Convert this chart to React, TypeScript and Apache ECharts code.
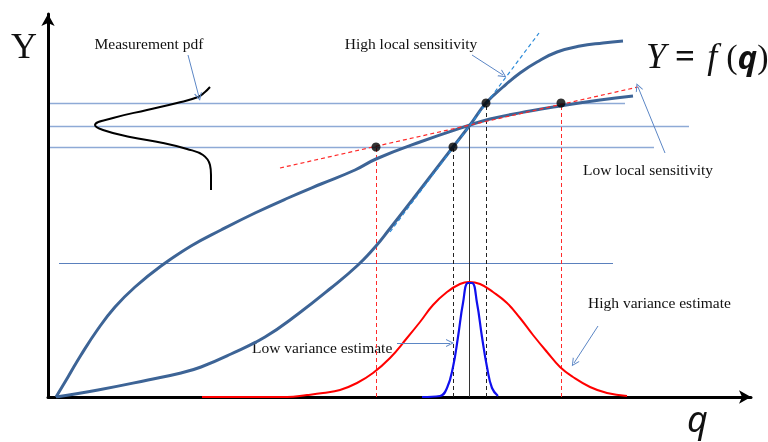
import React, { useEffect, useRef } from "react";
import * as echarts from "echarts";

// Data coordinates: x = q (0..703), y = Y (0..383)
const X_MAX = 703;
const Y_MAX = 383;

// Low-sensitivity (concave) model curve
const curveLow: number[][] = [
  [8, 0], [20, 20], [33, 42], [50, 68], [67, 90], [87, 110], [113, 131],
  [143, 151], [173, 167], [207, 184], [240, 199], [273, 213], [307, 227],
  [328, 238], [372, 255], [422, 272], [442, 278], [482, 286], [512, 291],
  [552, 297], [585, 301],
];
// High-sensitivity (S-shaped) model curve
const curveHigh: number[][] = [
  [8, 0], [50, 7], [100, 17], [133, 24], [153, 30], [183, 43], [217, 60],
  [250, 83], [283, 109], [310, 132], [328, 151], [340, 166], [365, 198],
  [405, 250], [422, 272], [438, 294], [455, 310], [472, 324], [489, 335],
  [509, 345], [532, 351], [555, 354], [575, 356],
];
// High variance estimate pdf
const pdfWide: number[][] = [
  [154, 0], [239, 0], [259, 2], [275, 4], [292, 7], [309, 14], [325, 24],
  [342, 39], [359, 59], [372, 75], [385, 92], [399, 105], [412, 113],
  [421, 115], [432, 113], [445, 105], [459, 94], [472, 79], [485, 62],
  [499, 45], [512, 30], [525, 20], [542, 10], [559, 4], [579, 1],
];
// Low variance estimate pdf
const pdfNarrow: number[][] = [
  [374, 0], [392, 1], [399, 9], [405, 30], [410, 60], [415, 94], [420, 114],
  [424, 114], [429, 94], [434, 60], [439, 30], [444, 9], [450, 1],
];
// Measurement pdf (drawn sideways)
const pdfMeasure: number[][] = [
  [162, 310], [157, 305], [150, 300], [129, 294], [99, 287], [65, 279],
  [47, 272], [55, 267], [82, 260], [115, 254], [139, 248], [155, 242],
  [162, 232], [163, 222], [163, 207],
];
// Horizontal measurement levels [x1, x2, y]
const levelLines: number[][] = [
  [2, 577, 294],
  [2, 641, 271],
  [2, 606, 250],
];
const baseLevel: number[] = [11, 565, 134];
// Vertical projections [x, yTop]
const redDrops: number[][] = [[328, 250], [513, 294]];
const blackDrops: number[][] = [[405, 250], [438, 294]];
const centerDrop: number[] = [421, 271];
// Tangents
const tangentLow: number[][] = [[232, 229], [590, 310]];
const tangentHigh: number[][] = [[342, 165], [491, 364]];
// Intersection points
const dots: number[][] = [[328, 250], [405, 250], [438, 294], [513, 294]];
// Annotation arrows
const arrows: number[][][] = [
  [[140, 342], [151, 300]],
  [[424, 342], [455, 322]],
  [[617, 244], [590, 310]],
  [[349, 54], [402, 54]],
  [[550, 71], [526, 34]],
];

const SERIF = "'Liberation Serif', 'Times New Roman', serif";
const CHEVRON = "path://M0,100 L50,0 L100,100 L86,100 L50,26 L14,100 Z";

export default function App() {
  const ref = useRef<HTMLDivElement>(null);
  useEffect(() => {
    if (!ref.current) return;
    const chart = echarts.init(ref.current, undefined, { renderer: "svg" });
    const curve = (data: number[][], color: string, width: number) => ({
      type: "line",
      data,
      smooth: 0.45,
      symbol: "none",
      showSymbol: false,
      lineStyle: { color, width },
      z: 3,
    });
    const seg = (coords: number[][], color: string, width: number, type: any = "solid") => ({
      coords,
      lineStyle: { color, width, type, opacity: 1 },
    });
    const axisCommon = {
      type: "value",
      axisTick: { show: false },
      axisLabel: { show: false },
      splitLine: { show: false },
      axisLine: {
        show: true,
        symbol: ["none", "arrow"],
        symbolSize: [10, 12],
        lineStyle: { color: "#000", width: 3 },
      },
    };
    const label = (text: string, x: number, y: number, align: string = "left") => ({
      type: "text",
      x,
      y,
      style: {
        text,
        font: `15.5px ${SERIF}`,
        fill: "#111",
        textAlign: align,
        textVerticalAlign: "middle",
      },
    });
    chart.setOption({
      animation: false,
      grid: { left: 48, right: 17, top: 14, bottom: 45, containLabel: false },
      xAxis: { ...axisCommon, min: 0, max: X_MAX },
      yAxis: { ...axisCommon, min: 0, max: Y_MAX },
      series: [
        {
          type: "lines",
          coordinateSystem: "cartesian2d",
          symbol: ["none", "none"],
          z: 1,
          data: [
            ...levelLines.map((l) => seg([[l[0], l[2]], [l[1], l[2]]], "#8eaad6", 1.4)),
            seg([[baseLevel[0], baseLevel[2]], [baseLevel[1], baseLevel[2]]], "#5a80bd", 1),
            ...redDrops.map((d) => seg([[d[0], 0], [d[0], d[1]]], "#ff2a2a", 1, [4, 3])),
            ...blackDrops.map((d) => seg([[d[0], 0], [d[0], d[1]]], "#222", 1, [4, 3])),
            seg([[centerDrop[0], 0], [centerDrop[0], centerDrop[1]]], "#333", 1),
          ],
        },
        curve(pdfWide, "#ff0000", 2),
        curve(pdfNarrow, "#1010ee", 2.2),
        curve(pdfMeasure, "#000", 2),
        curve(curveLow, "#3d6496", 3),
        curve(curveHigh, "#3d6496", 3),
        {
          type: "lines",
          coordinateSystem: "cartesian2d",
          symbol: ["none", "none"],
          z: 4,
          data: [
            seg(tangentLow, "#ff2a2a", 1.2, [4, 3]),
            seg(tangentHigh, "#2b8ad8", 1.2, [4, 3]),
          ],
        },
        {
          type: "scatter",
          data: dots,
          symbol: "circle",
          symbolSize: 9,
          itemStyle: { color: "#000" },
          z: 5,
        },
        {
          type: "lines",
          coordinateSystem: "cartesian2d",
          symbol: ["none", CHEVRON],
          symbolSize: [9, 8],
          z: 5,
          data: arrows.map((a) => seg(a, "#5b86c5", 1)),
        },
      ],
      graphic: [
        {
          type: "text",
          x: 11,
          y: 46,
          style: { text: "Y", font: `36px ${SERIF}`, fill: "#111", textVerticalAlign: "middle" },
        },
        label("Measurement pdf", 149, 43, "center"),
        label("High local sensitivity", 411, 43, "center"),
        label("Low local sensitivity", 648, 169, "center"),
        label("Low variance estimate", 252, 347),
        label("High variance estimate", 588, 302),
        {
          type: "text",
          x: 646,
          y: 56,
          style: {
            text: "{a|Y }{e|= }{s| }{a|f }{b|(}{c|q}{b|)}",
            textVerticalAlign: "middle",
            fill: "#111",
            rich: {
              a: { fontFamily: SERIF, fontStyle: "italic", fontSize: 36, fill: "#111" },
              e: { fontFamily: SERIF, fontSize: 35, fontWeight: "bold", fill: "#111" },
              s: { fontFamily: SERIF, fontSize: 14, fill: "#111" },
              b: { fontFamily: SERIF, fontSize: 34, fill: "#111" },
              c: { fontFamily: "'Noto Sans', sans-serif", fontStyle: "italic", fontSize: 33, fontWeight: "bold", fill: "#111" },
            },
          },
        },
        {
          type: "text",
          x: 687,
          y: 418,
          style: {
            text: "q",
            font: "italic 36px 'Noto Sans', sans-serif",
            fill: "#111",
            textVerticalAlign: "middle",
          },
        },
      ],
    });
    return () => chart.dispose();
  }, []);
  return (
    <div
      ref={ref}
      style={{ position: "fixed", left: 0, top: 0, width: 768, height: 442 }}
    />
  );
}
